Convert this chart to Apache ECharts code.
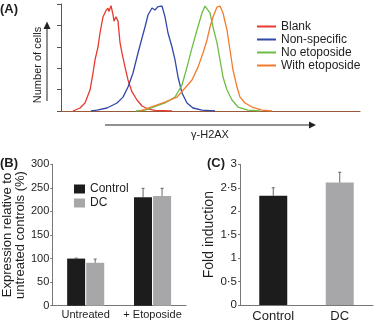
<!DOCTYPE html>
<html>
<head>
<meta charset="utf-8">
<script src="https://cdn.jsdelivr.net/npm/echarts@6/dist/echarts.min.js"></script>
<style>
  html, body { margin: 0; padding: 0; background: #fff; }
  #main { width: 374px; height: 323px; }
</style>
</head>
<body>
<div id="main"></div>
<script>
// (A) flow histograms, [channel, % of peak]
var blank = [[12,0],[19,2.8],[24,7.5],[29,19.6],[32,35.5],[34,47.7],[37,59.8],[39,72.9],[42,87.9],[45,94],[47,96],[48,93],[50,98.5],[51,97],[52,90],[53,84],[55,88],[57,84],[59,64],[61,54],[64,41],[67,29],[71,17.8],[76,10.3],[81,4.7],[87,1.9],[94,0.5],[111,0]];
var nonSpecific = [[30,0],[36,0.9],[46,2.8],[56,7.5],[62,13],[67,22.4],[72,35.5],[77,54.2],[81,68.2],[84,78.5],[87,89.7],[91,96.3],[94,94.4],[97,97.5],[101,98.1],[104,87.9],[107,72.9],[111,59.8],[114,47.7],[117,31.8],[121,16.8],[126,7.5],[132,2.8],[141,0.9],[154,0]];
var noEtoposide = [[75,0],[84,0.9],[104,7.5],[114,13],[121,24.3],[126,41],[131,59],[136,75.7],[141,91.6],[144,98.1],[146,98.1],[149,91.6],[152,78.5],[156,63.6],[159,47.7],[162,31.8],[166,19.6],[171,10.3],[177,3.7],[187,0.9],[199,0]];
var withEtoposide = [[79,0],[87,2.8],[104,8.4],[116,13],[124,21.5],[131,29],[137,41],[142,54.2],[146,66.4],[149,78.5],[152,87.9],[156,97.2],[159,98.1],[162,91.6],[166,75.7],[169,57],[172,38.3],[176,22.4],[179,13],[184,7.5],[191,3.7],[201,0.9],[211,0]];
var histNames = ['Blank', 'Non-specific', 'No etoposide', 'With etoposide'];

// (B) expression relative to untreated controls (%)
var groupsB = ['Untreated', '+ Etoposide'];
var controlB = [100, 230];
var controlTopB = [101, 249];
var dcB = [91, 233];
var dcTopB = [99, 249];

// (C) fold induction
var groupsC = ['Control', 'DC'];
var foldC = [2.33, 2.61];
var foldTopC = [2.5, 2.83];

var font = '"Liberation Sans", Arial, sans-serif';
var ink = '#1e1e1e';

function errBars(name, idx, vals, tops, offset) {
  return {
    type: 'custom', name: name, xAxisIndex: idx, yAxisIndex: idx, silent: true, z: 3,
    data: vals.map(function (v, i) { return [i, v, tops[i]]; }),
    renderItem: function (params, api) {
      var a = api.coord([api.value(0), api.value(1)]);
      var b = api.coord([api.value(0), api.value(2)]);
      var x = a[0] + offset;
      return {
        type: 'group',
        children: [
          { type: 'line', shape: { x1: x, y1: a[1], x2: x, y2: b[1] }, style: { stroke: '#666', lineWidth: 1 } },
          { type: 'line', shape: { x1: x - 1.5, y1: b[1], x2: x + 1.5, y2: b[1] }, style: { stroke: '#666', lineWidth: 1 } }
        ]
      };
    }
  };
}

function histLine(name, data, color) {
  return {
    type: 'line', name: name, xAxisIndex: 0, yAxisIndex: 0, data: data,
    showSymbol: false, symbol: 'none', smooth: false,
    lineStyle: { color: color, width: 1.3 }, itemStyle: { color: color }
  };
}

var chart = echarts.init(document.getElementById('main'));
chart.setOption({
  animation: false,
  textStyle: { fontFamily: font },
  grid: [
    { left: 61, top: 4, width: 299, height: 107 },
    { left: 50, top: 164.3, width: 136, height: 141.4 },
    { left: 240, top: 164.3, width: 133, height: 141.4 }
  ],
  legend: [
    {
      data: histNames, orient: 'vertical', left: 252, top: 15,
      icon: 'rect', itemWidth: 19, itemHeight: 2, itemGap: 0, selectedMode: false,
      textStyle: { fontFamily: font, fontSize: 12, lineHeight: 13, color: ink }
    },
    {
      data: ['Control', 'DC'], orient: 'vertical', left: 69, top: 177,
      icon: 'rect', itemWidth: 11, itemHeight: 9, itemGap: 0, selectedMode: false,
      textStyle: { fontFamily: font, fontSize: 12, lineHeight: 14, color: ink }
    }
  ],
  xAxis: [
    {
      type: 'value', gridIndex: 0, min: 0, max: 299,
      axisLine: { show: true, lineStyle: { color: '#9a5a3a', width: 1.2 } },
      axisTick: { show: false }, axisLabel: { show: false }, splitLine: { show: false }
    },
    {
      type: 'category', gridIndex: 1, data: groupsB,
      axisLine: { lineStyle: { color: '#777' } },
      axisTick: { length: 3, lineStyle: { color: '#777' } },
      axisLabel: { interval: 0, fontSize: 11, color: ink, margin: 4, fontFamily: font }
    },
    {
      type: 'category', gridIndex: 2, data: groupsC,
      axisLine: { lineStyle: { color: '#777' } },
      axisTick: { show: false },
      axisLabel: { interval: 0, fontSize: 13, color: ink, margin: 5, fontFamily: font }
    }
  ],
  yAxis: [
    {
      type: 'value', gridIndex: 0, min: 0, max: 100, interval: 20,
      axisLine: { show: true, lineStyle: { color: '#555' } },
      axisTick: { show: true, inside: false, length: 4, lineStyle: { color: '#555' } },
      axisLabel: { show: false }, splitLine: { show: false }
    },
    {
      type: 'value', gridIndex: 1, min: 0, max: 300, interval: 50,
      name: 'Expression relative to\nuntreated controls (%)',
      nameLocation: 'middle', nameGap: 25, nameRotate: 90,
      nameTextStyle: { fontSize: 13, lineHeight: 13, color: ink, fontFamily: font },
      axisLine: { show: true, lineStyle: { color: '#777' } },
      axisTick: { show: true, length: 2, lineStyle: { color: '#777' } },
      axisLabel: { fontSize: 11, color: ink, margin: 3, fontFamily: font },
      splitLine: { show: false }
    },
    {
      type: 'value', gridIndex: 2, min: 0, max: 3, interval: 0.5,
      name: 'Fold induction',
      nameLocation: 'middle', nameGap: 21, nameRotate: 90,
      nameTextStyle: { fontSize: 14, color: ink, fontFamily: font },
      axisLine: { show: true, lineStyle: { color: '#777' } },
      axisTick: { show: true, length: 2, lineStyle: { color: '#777' } },
      axisLabel: {
        fontSize: 11.5, color: ink, margin: 3, fontFamily: font,
        formatter: function (v) { return String(v).replace('.', '\u00b7'); }
      },
      splitLine: { show: false }
    }
  ],
  series: [
    histLine(histNames[0], blank, '#e8392e'),
    histLine(histNames[1], nonSpecific, '#3048a8'),
    histLine(histNames[2], noEtoposide, '#6cbd45'),
    histLine(histNames[3], withEtoposide, '#f47a2c'),
    {
      type: 'bar', name: 'Control', xAxisIndex: 1, yAxisIndex: 1, data: controlB,
      barWidth: 18, barGap: '6%', itemStyle: { color: '#1c1c1c' }
    },
    {
      type: 'bar', name: 'DC', xAxisIndex: 1, yAxisIndex: 1, data: dcB,
      barWidth: 18, barGap: '6%', itemStyle: { color: '#a7a7a9' }
    },
    errBars('Control error', 1, controlB, controlTopB, -9.5),
    errBars('DC error', 1, dcB, dcTopB, 9.5),
    {
      type: 'bar', name: 'Fold induction', xAxisIndex: 2, yAxisIndex: 2, barWidth: 28,
      data: foldC.map(function (v, i) {
        return { value: v, itemStyle: { color: i === 0 ? '#1c1c1c' : '#a7a7a9' } };
      })
    },
    errBars('Fold error', 2, foldC, foldTopC, 0)
  ],
  graphic: [
    { type: 'text', left: 0, top: 3, style: { text: '(A)', font: 'bold 13px ' + font, fill: ink } },
    { type: 'text', left: 0, top: 157, style: { text: '(B)', font: 'bold 13px ' + font, fill: ink } },
    { type: 'text', left: 207, top: 157, style: { text: '(C)', font: 'bold 13px ' + font, fill: ink } },
    // x arrow
    { type: 'line', shape: { x1: 105, y1: 125, x2: 310, y2: 125 }, style: { stroke: '#222', lineWidth: 1 } },
    { type: 'polygon', shape: { points: [[309, 121.5], [316, 125], [309, 128.5]] }, style: { fill: '#222' } },
    { type: 'text', x: 210, y: 135, style: { text: '\u03b3-H2AX', font: '11px ' + font, fill: ink, align: 'center', verticalAlign: 'middle' } },
    // y arrow
    { type: 'line', shape: { x1: 47, y1: 101, x2: 47, y2: 28 }, style: { stroke: '#222', lineWidth: 1 } },
    { type: 'polygon', shape: { points: [[43.5, 29], [47, 21.5], [50.5, 29]] }, style: { fill: '#222' } },
    { type: 'text', x: 38, y: 65, rotation: Math.PI / 2, style: { text: 'Number of cells', font: '11px ' + font, fill: ink, align: 'center', verticalAlign: 'middle' } }
  ]
});
</script>
</body>
</html>
